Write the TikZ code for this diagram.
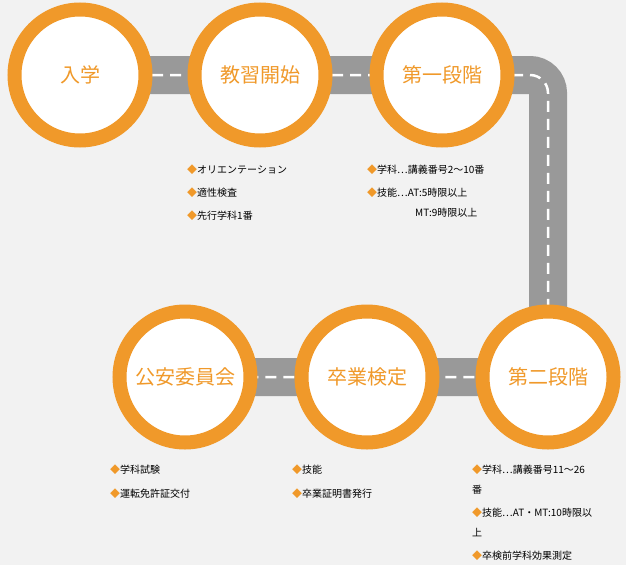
\documentclass[tikz,border=0pt]{standalone}
\usepackage{fontspec}
\setmainfont{Noto Sans CJK JP}
\definecolor{stepor}{HTML}{F0992A}
\definecolor{roadgray}{HTML}{999999}
\definecolor{bggray}{HTML}{F2F2F2}
\tikzset{
  stage/.style={circle, draw=stepor, line width=14pt, fill=white, minimum size=131pt,
    inner sep=0pt, text=stepor, font=\fontsize{20}{24}\selectfont},
  road/.style={draw=roadgray, line width=38pt},
  midline/.style={draw=white, line width=2.5pt, dash pattern=on 11pt off 7pt},
  note/.style={anchor=west, inner sep=0pt, font=\fontsize{10}{12}\selectfont, align=left}
}
\newcommand{\bul}{\textcolor{stepor}{◆}}
\begin{document}
\begin{tikzpicture}[x=1pt,y=-1pt]
\fill[bggray] (0,0) rectangle (626,565);
\useasboundingbox (0,0) rectangle (626,565);

%road
\coordinate (r1) at (80,75);
\coordinate (r2) at (548,75);
\coordinate (r3) at (548,377);
\coordinate (r4) at (185,377);
\draw[road, rounded corners=18pt] (r1) -- (r2) -- (r3) -- (r4);
\draw[midline, rounded corners=18pt] (r1) -- (r2) -- (r3) -- (r4);

%stages
\node[stage] (nyu)  at (80,75)   {入学};
\node[stage] (kyo)  at (260,75)  {教習開始};
\node[stage] (dai1) at (442,75)  {第一段階};
\node[stage] (dai2) at (548,377) {第二段階};
\node[stage] (sot)  at (367,377) {卒業検定};
\node[stage] (koan) at (185,377) {公安委員会};

%notes
\node[note] (kyoA) at (187,170) {\bul オリエンテーション};
\node[note] (kyoB) at (187,193) {\bul 適性検査};
\node[note] (kyoC) at (187,216) {\bul 先行学科1番};
\node[note] (dai1A) at (367,170) {\bul 学科…講義番号2～10番};
\node[note] (dai1B) at (367,193) {\bul 技能…AT:5時限以上};
\node[note] (dai1C) at (415,213) {MT:9時限以上};
\node[note] (koanA) at (110,470) {\bul 学科試験};
\node[note] (koanB) at (110,494) {\bul 運転免許証交付};
\node[note] (sotA) at (292,470) {\bul 技能};
\node[note] (sotB) at (292,494) {\bul 卒業証明書発行};
\node[note] (dai2A) at (472,470) {\bul 学科…講義番号11～26};
\node[note] (dai2B) at (472,490) {番};
\node[note] (dai2C) at (472,513) {\bul 技能…AT・MT:10時限以};
\node[note] (dai2D) at (472,533) {上};
\node[note] (dai2E) at (472,556) {\bul 卒検前学科効果測定};
\end{tikzpicture}
\end{document}
